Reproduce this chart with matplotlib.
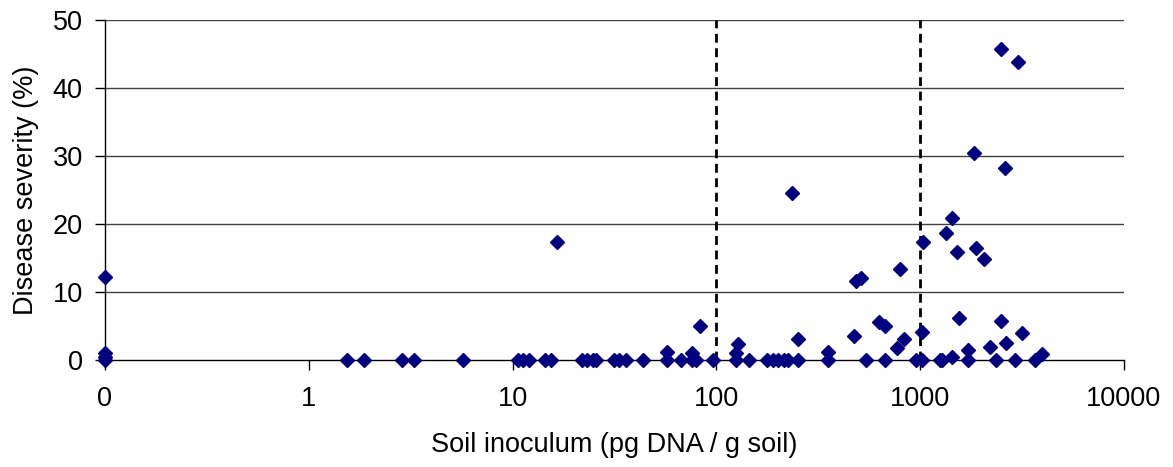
import matplotlib
matplotlib.use("Agg")
import matplotlib.pyplot as plt
import numpy as np

plt.rcParams['font.family'] = ['Liberation Sans', 'DejaVu Sans']

# Soil inoculum (pg DNA / g soil); 0 is shown at the left edge of the log axis
inoculum = [
    0, 0, 0, 0,
    1.54, 1.86, 2.86, 3.27, 5.69,
    10.6, 11.2, 12.0, 14.5, 15.5, 16.6,
    21.8, 23.3, 24.7, 25.8, 31.6, 33.1, 36.2, 43.4,
    57.5, 57.5, 67.3, 76.3, 76.3, 79.8, 83.5, 96.6,
    125, 125, 128, 144, 178, 190, 201, 215, 225, 236, 250, 250,
    354, 354, 475, 486, 514, 543, 630, 674, 674, 771, 798, 835, 955,
    1023, 1023, 1035, 1253, 1282, 1341, 1435, 1435, 1518, 1553,
    1718, 1718, 1840, 1883, 2060, 2203, 2360, 2495, 2495, 2612, 2642,
    2924, 3020, 3162, 3663, 3963,
]
# Disease severity (%)
severity = [
    0, 0.4, 1.0, 12.2,
    0, 0, 0, 0, 0,
    0, 0, 0, 0, 0, 17.3,
    0, 0, 0, 0, 0, 0, 0, 0,
    0, 1.2, 0, 0, 1.0, 0, 5.0, 0,
    0, 1.0, 2.3, 0, 0, 0, 0, 0, 0, 24.6, 0, 3.1,
    0, 1.2, 3.6, 11.6, 12.0, 0, 5.6, 5.0, 0, 1.8, 13.4, 3.1, 0,
    0, 4.1, 17.3, 0, 0, 18.7, 0.5, 20.9, 15.9, 6.2,
    0, 1.5, 30.4, 16.4, 14.8, 1.9, 0, 5.8, 45.7, 28.2, 2.5,
    0, 43.8, 3.9, 0, 0.9,
]
thresholds = [100, 1000]
x_ticks = [0.1, 1, 10, 100, 1000, 10000]
x_tick_labels = ["0", "1", "10", "100", "1000", "10000"]
y_ticks = [0, 10, 20, 30, 40, 50]

x_plot = np.where(np.array(inoculum) == 0, 0.1, np.array(inoculum, dtype=float))

fig = plt.figure(figsize=(11.73, 4.67), dpi=100)
ax = fig.add_axes([105/1173, 1 - 360/467, 1019/1173, 340/467])

ax.set_xscale('log')
ax.set_xlim(0.1, 10000)
ax.set_ylim(0, 50)

for yv in y_ticks[1:]:
    ax.axhline(yv, color='#404040', lw=1.0, zorder=1)

for t in thresholds:
    ax.axvline(t, color='black', lw=2.0, ls=(0, (3.2, 2.0)), zorder=2)

ax.plot(x_plot, severity, ls='none', marker='D', ms=7, color='#000080',
        mec='#000080', clip_on=False, zorder=5)

ax.spines['top'].set_visible(False)
ax.spines['right'].set_visible(False)
ax.spines['left'].set_color('black')
ax.spines['bottom'].set_color('black')
ax.spines['left'].set_linewidth(1.0)
ax.spines['bottom'].set_linewidth(1.0)

ax.set_xticks(x_ticks)
ax.set_xticklabels(x_tick_labels)
ax.xaxis.set_minor_locator(matplotlib.ticker.NullLocator())
ax.set_yticks(y_ticks)
ax.tick_params(axis='x', direction='out', length=7, width=1, colors='black',
               labelsize=19.5, pad=12)
ax.tick_params(axis='y', direction='out', length=7, width=1, colors='black',
               labelsize=19.5, pad=9)

ax.set_xlabel("Soil inoculum (pg DNA / g soil)", fontsize=19.5, labelpad=14)
ax.set_ylabel("Disease severity (%)", fontsize=19.5, labelpad=10)

fig.savefig("out.png", dpi=100)
